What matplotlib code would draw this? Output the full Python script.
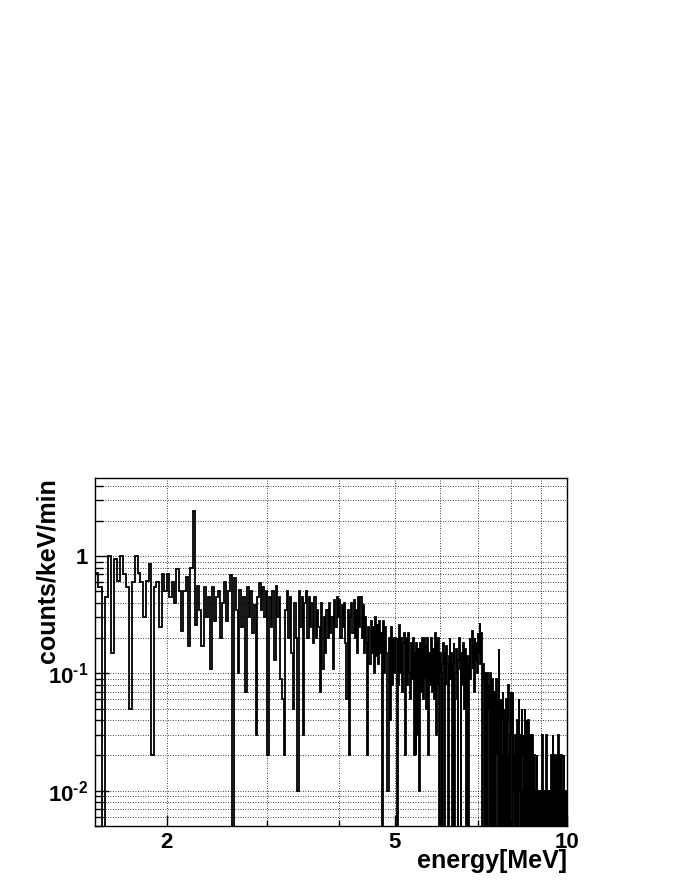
import numpy as np
import matplotlib
matplotlib.use("Agg")
import matplotlib.pyplot as plt
from matplotlib.ticker import FixedLocator, FixedFormatter, LogLocator, NullFormatter

# spectrum, counts/keV/min, 20 keV bins starting at 1.5 MeV
e_min = 1.5
bin_w = 0.02

rate_1 = [0.72, 0.55, 0, 0.45, 1.0, 0.15, 0.95, 0.62, 1.0, 0.7,
          0.55, 0.05, 0.6, 1.0, 0.72, 0.6, 0.3, 0.62, 0.85, 0.02,
          0.55, 0.6, 0.25, 0.7, 0.5]
rate_2 = [0.7, 0.45, 0.6, 0.4, 0.78, 0.5, 0.23, 0.5, 0.66, 0.17,
          0.8, 2.44, 0.26, 0.56, 0.35, 0.17, 0.55, 0.3, 0.45, 0.11,
          0.55, 0.28, 0.45, 0.5, 0.2,
          0.4, 0.6, 0.28, 0.5, 0.69, 0, 0.65, 0.35, 0.1, 0.51,
          0.25, 0.45, 0.07, 0.55, 0.3, 0.5, 0.22, 0.38, 0.03, 0.45,
          0.59, 0.35, 0.55, 0.3, 0.5]
rate_3 = [0.02, 0.45, 0.25, 0.5, 0.13, 0.56, 0.3, 0.45, 0.09, 0.06,
          0.02, 0.35, 0.5, 0.2, 0.45, 0.15, 0.05, 0.4, 0.2, 0.01,
          0.5, 0.25, 0.45, 0.03, 0.4,
          0.5, 0.2, 0.45, 0.25, 0.4, 0.18, 0.45, 0.2, 0.35, 0.25,
          0.07, 0.4, 0.11, 0.3, 0.15, 0.35, 0.2, 0.4, 0.22, 0.3,
          0.11, 0.42, 0.25, 0.45, 0.3]
rate_4 = [0.42, 0.2, 0.38, 0.25, 0.4, 0.18, 0.06, 0.35, 0.02, 0.3,
          0.4, 0.22, 0.42, 0.2, 0.35, 0.15, 0.45, 0.25, 0.45, 0.2,
          0.38, 0.15, 0.3, 0.18, 0.02,
          0.25, 0.12, 0.28, 0.15, 0.25, 0.1, 0.3, 0.14, 0.26, 0.12,
          0.28, 0.15, 0.22, 0, 0.28, 0.1, 0.25, 0.15, 0.01, 0.2,
          0.04, 0.25, 0.08, 0.2, 0.1]
rate_5 = [0.2, 0.1, 0, 0.2, 0.08, 0.26, 0.1, 0.2, 0.07, 0.18,
          0.22, 0.02, 0.2, 0.08, 0.22, 0.1, 0.06, 0.18, 0.09, 0.2,
          0.02, 0.15, 0.02, 0.18, 0.03, 0.16, 0.01, 0.18, 0.07, 0.2,
          0.06, 0.2, 0.09, 0.17, 0.05, 0.2, 0.02, 0.15, 0.08, 0.18,
          0.2, 0.07, 0.16, 0.06, 0.22, 0.03, 0.19, 0.08, 0.2, 0]
rate_6 = [0.15, 0.1, 0, 0.12, 0.18, 0, 0.15, 0.08, 0.17, 0.12,
          0, 0.14, 0.2, 0.09, 0.15, 0, 0.12, 0.18, 0, 0.1,
          0.16, 0.06, 0, 0.13, 0.2, 0.11, 0, 0.15, 0.08, 0.18,
          0.12, 0.05, 0.16, 0, 0.1, 0.14, 0, 0.12, 0.2, 0.09,
          0.15, 0.23, 0.11, 0.17, 0.07, 0.2, 0.13, 0.18, 0.1, 0.22]
rate_7 = [0.2, 0.15, 0.27, 0.12, 0.22, 0.1, 0, 0.12, 0.09, 0,
          0.1, 0.06, 0, 0.1, 0.05, 0.08, 0, 0.1, 0.04, 0,
          0.09, 0.06, 0, 0.07, 0.03, 0, 0.09, 0.02, 0.06, 0,
          0.16, 0.03, 0, 0.06, 0.02, 0, 0.07, 0.04, 0, 0.05,
          0.03, 0, 0.06, 0.02, 0, 0.08, 0.04, 0, 0.03, 0.07]
rate_8 = [0.03, 0, 0.07, 0.01, 0.02, 0, 0.03, 0.01, 0, 0.04,
          0.02, 0, 0.06, 0.01, 0.03, 0, 0.02, 0.05, 0, 0.01,
          0.03, 0, 0.05, 0.02, 0, 0.04, 0.01, 0, 0.04, 0.02,
          0, 0.03, 0.01, 0, 0.02, 0.03, 0, 0.01, 0.02, 0,
          0.01, 0.01, 0, 0.02, 0.01, 0, 0.01, 0.01, 0, 0.01]
rate_9 = [0.01, 0, 0.01, 0.03, 0, 0.01, 0.01, 0, 0.01, 0,
          0.03, 0.01, 0, 0.01, 0.01, 0, 0.01, 0, 0.01, 0.02,
          0, 0.01, 0.03, 0, 0.01, 0.02, 0.01, 0, 0.02, 0.01,
          0, 0.02, 0.01, 0.03, 0, 0.02, 0.01, 0, 0.01, 0.02,
          0, 0.01, 0, 0.01, 0.02, 0, 0.01, 0.01, 0, 0.01]

x_ticks = [2, 5, 10]
x_labels = ["2", "5", "10"]
y_ticks = [0.01, 0.1, 1]
y_labels = [r"$10^{\text{-}2}$", r"$10^{\text{-}1}$", "1"]

rate = np.array(rate_1 + rate_2 + rate_3 + rate_4 + rate_5 +
                rate_6 + rate_7 + rate_8 + rate_9)
edges = e_min + bin_w * np.arange(len(rate) + 1)

plt.rcParams["font.family"] = ["Liberation Sans", "DejaVu Sans"]
plt.rcParams["font.weight"] = "bold"
plt.rcParams["mathtext.fontset"] = "custom"
plt.rcParams["mathtext.rm"] = "Liberation Sans:bold"
plt.rcParams["mathtext.it"] = "Liberation Sans:bold"
plt.rcParams["mathtext.bf"] = "Liberation Sans:bold"

fig = plt.figure(figsize=(6.8, 8.8), dpi=100)
ax = fig.add_axes([95 / 680, 54 / 880, 472 / 680, 348 / 880])

# empty bins drop to the bottom like in ROOT
ax.stairs(np.where(rate > 0, rate, 1e-4), edges, color="black", lw=1.3)

ax.set_xscale("log")
ax.set_yscale("log")
ax.set_xlim(1.5, 10)
ax.set_ylim(0.005, 4.64)

ax.xaxis.set_major_locator(FixedLocator(x_ticks))
ax.xaxis.set_major_formatter(FixedFormatter(x_labels))
ax.xaxis.set_minor_locator(FixedLocator([3, 4, 6, 7, 8, 9]))
ax.xaxis.set_minor_formatter(NullFormatter())
ax.yaxis.set_major_locator(FixedLocator(y_ticks))
ax.yaxis.set_major_formatter(FixedFormatter(y_labels))
ax.yaxis.set_minor_locator(LogLocator(base=10, subs=np.arange(2, 10)))
ax.yaxis.set_minor_formatter(NullFormatter())

ax.set_axisbelow(True)
ax.grid(True, which="both", color="black", linestyle=(0, (1, 2)), linewidth=0.6)
ax.tick_params(which="both", direction="in", top=False, right=False,
               labelsize=16, width=1)
ax.tick_params(axis="y", which="major", length=10, pad=5)
ax.tick_params(axis="y", which="minor", length=6)
ax.tick_params(axis="x", which="major", length=8, pad=4)
ax.tick_params(axis="x", which="minor", length=4)
for s in ax.spines.values():
    s.set_linewidth(1.0)

fig.text(48 / 680, 1 - 478 / 880, "counts/keV/min", rotation=90,
         ha="center", va="top", fontsize=18, fontweight="bold")
fig.text(567 / 680, 1 - 868 / 880, "energy[MeV]", ha="right",
         va="baseline", fontsize=18, fontweight="bold")

fig.savefig("out.png", dpi=100)
